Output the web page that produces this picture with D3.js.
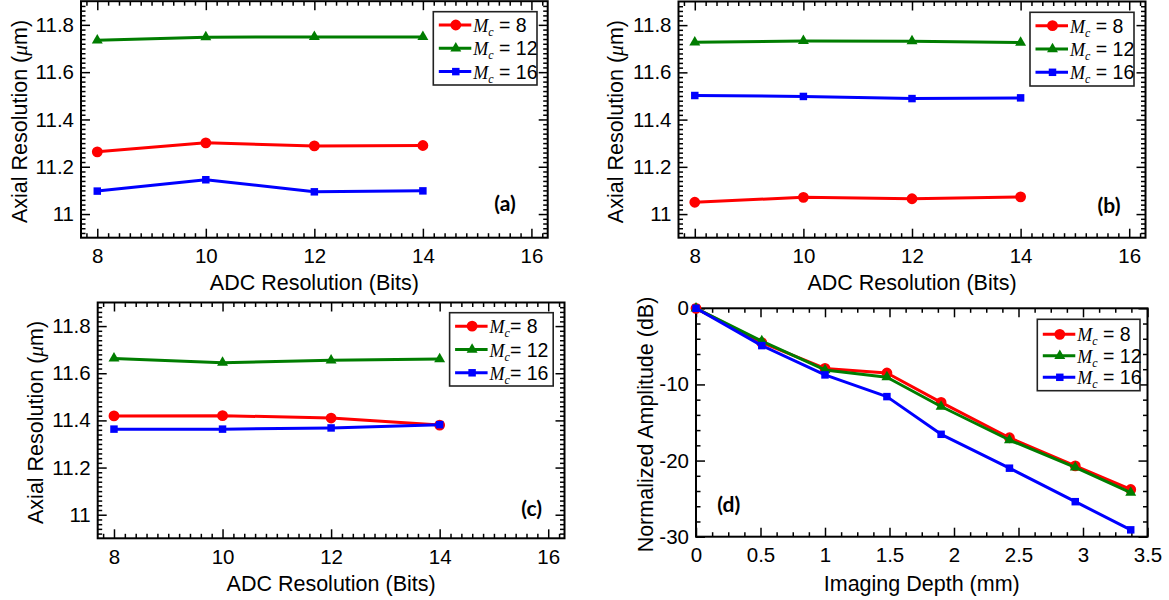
<!DOCTYPE html>
<html>
<head>
<meta charset="utf-8">
<script src="https://cdn.jsdelivr.net/npm/d3@7"></script>
<style>
  html, body { margin: 0; padding: 0; background: #fff; }
  svg { display: block; }
</style>
</head>
<body>
<svg id="chart" width="1169" height="600"></svg>
<script>
// ---------------- data ----------------
const mcValues = [8, 12, 16];
const adcBits = [8, 10, 12, 14];

const aMc8  = [11.263, 11.301, 11.288, 11.290];
const aMc12 = [11.735, 11.748, 11.749, 11.749];
const aMc16 = [11.097, 11.145, 11.094, 11.098];

const bMc8  = [11.050, 11.071, 11.065, 11.073];
const bMc12 = [11.727, 11.733, 11.732, 11.726];
const bMc16 = [11.502, 11.498, 11.489, 11.492];

const cMc8  = [11.419, 11.420, 11.410, 11.380];
const cMc12 = [11.663, 11.645, 11.655, 11.660];
const cMc16 = [11.363, 11.363, 11.368, 11.382];

const depthMm = [0, 0.51, 1.0, 1.48, 1.9, 2.43, 2.94, 3.37];
const dMc8  = [0, -4.5, -7.9, -8.5, -12.35, -17.0, -20.7, -23.8];
const dMc12 = [0, -4.3, -8.1, -9.05, -12.9, -17.3, -20.9, -24.2];
const dMc16 = [0, -4.9, -8.75, -11.6, -16.55, -21.0, -25.4, -29.1];

const adcTicks = [8, 10, 12, 14, 16];
const resTicks = [11, 11.2, 11.4, 11.6, 11.8];
const depthTicks = [0, 0.5, 1, 1.5, 2, 2.5, 3, 3.5];
const ampTicks = [0, -10, -20, -30];

// ---------------- drawing ----------------
const svg = d3.select("#chart");
const SANS = "'Liberation Sans', Arial, sans-serif";
const SERIF = "'Liberation Serif', 'Times New Roman', serif";
const colors = ["#ff0000", "#007d00", "#0000ff"];
const shapes = [d3.symbolCircle, d3.symbolTriangle, d3.symbolSquare];
const shapeSizes = [92, 52, 56];

function range(a, b, step) {
  const out = [];
  const n = Math.round((b - a) / step);
  for (let i = 0; i <= n; i++) out.push(+(a + i * step).toFixed(6));
  return out;
}

function panel(cfg) {
  const g = svg.append("g");
  const x = d3.scaleLinear().domain(cfg.xDomain).range([cfg.x0, cfg.x1]);
  const y = d3.scaleLinear().domain(cfg.yDomain).range([cfg.y1, cfg.y0]);

  const isMajor = (arr, v) => arr.some(m => Math.abs(m - v) < 1e-6);
  const xMinor = cfg.xMinor.filter(v => !isMajor(cfg.xMajor, v));
  const yMinor = cfg.yMinor.filter(v => !isMajor(cfg.yMajor, v));

  function styleAxis(sel) {
    sel.select(".domain").remove();
    sel.selectAll(".tick line").attr("stroke", "#000").attr("stroke-width", 1.5);
    sel.selectAll("text").attr("font-family", SANS).attr("font-size", 20.5).attr("fill", "#000");
  }

  // bottom
  g.append("g").attr("transform", `translate(0,${cfg.y1})`)
    .call(d3.axisBottom(x).tickValues(cfg.xMajor).tickSizeInner(-9).tickSizeOuter(0)
      .tickPadding(11).tickFormat(cfg.xFmt)).call(styleAxis);
  g.append("g").attr("transform", `translate(0,${cfg.y1})`)
    .call(d3.axisBottom(x).tickValues(xMinor).tickSize(-4.5).tickFormat("")).call(styleAxis);
  // top
  g.append("g").attr("transform", `translate(0,${cfg.y0})`)
    .call(d3.axisTop(x).tickValues(cfg.xMajor).tickSize(-9).tickFormat("")).call(styleAxis);
  g.append("g").attr("transform", `translate(0,${cfg.y0})`)
    .call(d3.axisTop(x).tickValues(xMinor).tickSize(-4.5).tickFormat("")).call(styleAxis);
  // left
  g.append("g").attr("transform", `translate(${cfg.x0},0)`)
    .call(d3.axisLeft(y).tickValues(cfg.yMajor).tickSizeInner(-9).tickSizeOuter(0)
      .tickPadding(7).tickFormat(cfg.yFmt)).call(styleAxis);
  g.append("g").attr("transform", `translate(${cfg.x0},0)`)
    .call(d3.axisLeft(y).tickValues(yMinor).tickSize(-4.5).tickFormat("")).call(styleAxis);
  // right
  g.append("g").attr("transform", `translate(${cfg.x1},0)`)
    .call(d3.axisRight(y).tickValues(cfg.yMajor).tickSize(-9).tickFormat("")).call(styleAxis);
  g.append("g").attr("transform", `translate(${cfg.x1},0)`)
    .call(d3.axisRight(y).tickValues(yMinor).tickSize(-4.5).tickFormat("")).call(styleAxis);

  // frame
  g.append("rect").attr("x", cfg.x0).attr("y", cfg.y0)
    .attr("width", cfg.x1 - cfg.x0).attr("height", cfg.y1 - cfg.y0)
    .attr("fill", "none").attr("stroke", "#000").attr("stroke-width", 2);

  // series
  const line = d3.line().x(d => x(d[0])).y(d => y(d[1]));
  cfg.series.forEach((vals, i) => {
    const pts = cfg.xVals.map((xv, j) => [xv, vals[j]]);
    g.append("path").datum(pts).attr("d", line)
      .attr("fill", "none").attr("stroke", colors[i]).attr("stroke-width", 3)
      .attr("stroke-linejoin", "round");
    g.selectAll(null).data(pts).enter().append("path")
      .attr("transform", d => `translate(${x(d[0])},${y(d[1])})`)
      .attr("d", d3.symbol().type(shapes[i]).size(shapeSizes[i]))
      .attr("fill", colors[i]);
  });

  // axis titles
  g.append("text").attr("x", (cfg.x0 + cfg.x1) / 2).attr("y", cfg.y1 + cfg.xTitleOff)
    .attr("dy", "0.35em").attr("text-anchor", "middle")
    .attr("font-family", SANS).attr("font-size", 21.5).text(cfg.xTitle);
  const yt = g.append("text")
    .attr("transform", `translate(${cfg.yTitleX},${(cfg.y0 + cfg.y1) / 2 + 2}) rotate(-90)`)
    .attr("dy", "0.35em").attr("text-anchor", "middle")
    .attr("font-family", SANS).attr("font-size", 21.5);
  cfg.yTitle.forEach(p => {
    const t = yt.append("tspan").text(p.t);
    if (p.it) t.attr("font-style", "italic").attr("font-family", SERIF);
  });

  // legend
  const L = cfg.legend;
  const bx = cfg.x1 - L.right - L.w, by = cfg.y0 + L.top;
  const lg = g.append("g");
  lg.append("rect").attr("x", bx).attr("y", by).attr("width", L.w).attr("height", L.h)
    .attr("fill", "#fff").attr("stroke", "#222").attr("stroke-width", 1.6);
  mcValues.forEach((mc, i) => {
    const ry = by + L.first + i * L.step;
    lg.append("line").attr("x1", bx + 5.5).attr("x2", bx + 38).attr("y1", ry).attr("y2", ry)
      .attr("stroke", colors[i]).attr("stroke-width", 3);
    lg.append("path").attr("transform", `translate(${bx + 22.5},${ry})`)
      .attr("d", d3.symbol().type(shapes[i]).size(shapeSizes[i])).attr("fill", colors[i]);
    const t = lg.append("text").attr("x", bx + 40).attr("y", ry + 7)
      .attr("font-family", SANS).attr("font-size", 19.5);
    t.append("tspan").attr("font-family", SERIF).attr("font-style", "italic")
      .attr("font-size", 18).text("M");
    t.append("tspan").attr("font-family", SERIF).attr("font-style", "italic")
      .attr("font-size", 12).attr("dy", 4).text("c");
    t.append("tspan").attr("dy", -4).text(L.sep + "= " + mc);
  });

  // panel tag
  g.append("text").attr("x", cfg.tag.x).attr("y", cfg.tag.y).attr("dy", "0.35em")
    .attr("text-anchor", "middle").attr("font-family", "Lato, 'Open Sans', sans-serif")
    .attr("font-weight", "bold").attr("font-size", 21).text(cfg.tag.t);
}

const resFmt = d => d3.format(".1f")(d).replace(/\.0$/, "");
const plainFmt = d => String(d);
const resTitle = [{t: "Axial Resolution ("}, {t: "\u03BC", it: true}, {t: "m)"}];
const adcCommon = {
  xDomain: [7.7, 16.3], yDomain: [10.9, 11.9],
  xMajor: adcTicks, xMinor: range(7.8, 16.2, 0.2),
  yMajor: resTicks, yMinor: range(10.92, 11.88, 0.02),
  xFmt: plainFmt, yFmt: resFmt, xVals: adcBits,
  xTitle: "ADC Resolution (Bits)", yTitle: resTitle
};

panel(Object.assign({}, adcCommon, {
  x0: 81, x1: 547.7, y0: 1.2, y1: 237.7, xTitleOff: 44.5, yTitleX: 19,
  series: [aMc8, aMc12, aMc16],
  legend: {right: 10.7, top: 10.5, w: 103.7, h: 73.3, first: 13.3, step: 23.3, sep: " "},
  tag: {t: "(a)", x: 505, y: 203.5}
}));

panel(Object.assign({}, adcCommon, {
  x0: 678.5, x1: 1145.5, y0: 1.5, y1: 237.7, xTitleOff: 44.5, yTitleX: 615,
  series: [bMc8, bMc12, bMc16],
  legend: {right: 11.5, top: 10.8, w: 104, h: 73.7, first: 13.4, step: 23.3, sep: " "},
  tag: {t: "(b)", x: 1109, y: 205.7}
}));

panel(Object.assign({}, adcCommon, {
  x0: 97.7, x1: 564.5, y0: 302.5, y1: 538.3, xTitleOff: 45, yTitleX: 35,
  series: [cMc8, cMc12, cMc16],
  legend: {right: 11.3, top: 10.2, w: 103.6, h: 73.3, first: 13.5, step: 23.3, sep: ""},
  tag: {t: "(c)", x: 531.7, y: 508.3}
}));

panel({
  x0: 696, x1: 1147.5, y0: 308.3, y1: 536.7, xTitleOff: 46.6, yTitleX: 645,
  xDomain: [0, 3.5], yDomain: [-30, 0],
  xMajor: depthTicks, xMinor: range(0, 3.5, 0.125),
  yMajor: ampTicks, yMinor: range(-30, 0, 2),
  xFmt: plainFmt, yFmt: plainFmt, xVals: depthMm,
  xTitle: "Imaging Depth (mm)", yTitle: [{t: "Normalized Amplitude (dB)"}],
  series: [dMc8, dMc12, dMc16],
  legend: {right: 7.5, top: 11, w: 102.7, h: 71.4, first: 15, step: 21.5, sep: " "},
  tag: {t: "(d)", x: 728.8, y: 505}
});
</script>
</body>
</html>
